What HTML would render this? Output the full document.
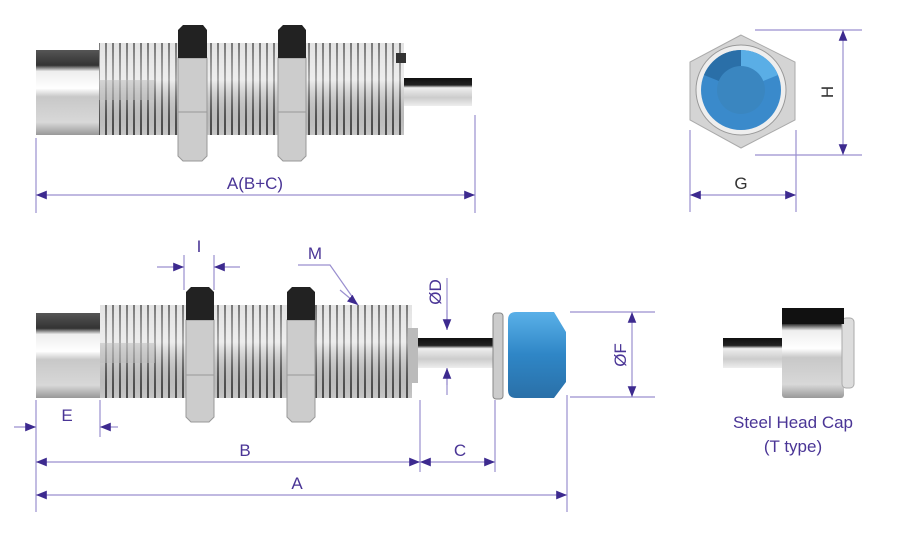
<!DOCTYPE html>
<html><head><style>body{margin:0;background:#fff}svg{display:block}</style></head><body>
<svg width="910" height="547" viewBox="0 0 910 547" xmlns="http://www.w3.org/2000/svg" font-family="Liberation Sans, sans-serif">
<defs>
<linearGradient id="cyl" x1="0" y1="0" x2="0" y2="1">
<stop offset="0" stop-color="#555"/><stop offset=".18" stop-color="#333"/><stop offset=".25" stop-color="#eee"/><stop offset=".45" stop-color="#fff"/><stop offset=".55" stop-color="#c8c8c8"/><stop offset=".85" stop-color="#d8d8d8"/><stop offset="1" stop-color="#999"/></linearGradient>
<linearGradient id="rod" x1="0" y1="0" x2="0" y2="1">
<stop offset="0" stop-color="#111"/><stop offset=".25" stop-color="#222"/><stop offset=".35" stop-color="#eee"/><stop offset=".7" stop-color="#ccc"/><stop offset="1" stop-color="#eee"/></linearGradient>
<pattern id="thr" width="7" height="10" patternUnits="userSpaceOnUse">
<rect width="7" height="10" fill="#dcdcdc"/><rect x="0" width="2" height="10" fill="#555"/></pattern>
<linearGradient id="shade" x1="0" y1="0" x2="0" y2="1">
<stop offset="0" stop-color="#fff" stop-opacity=".2"/><stop offset=".4" stop-color="#fff" stop-opacity=".5"/><stop offset="1" stop-color="#000" stop-opacity=".1"/></linearGradient>
<linearGradient id="blue" x1="0" y1="0" x2="0" y2="1">
<stop offset="0" stop-color="#5ab0e8"/><stop offset=".5" stop-color="#2f86c6"/><stop offset="1" stop-color="#2a70a8"/></linearGradient>
<marker id="ar" viewBox="0 0 10 10" refX="10" refY="5" markerWidth="9" markerHeight="9" orient="auto-start-reverse"><path d="M0,1 L10,5 L0,9 z" fill="#3d2a8f"/></marker>
</defs>

<g id="top">
<rect x="36" y="50" width="64" height="85" fill="url(#cyl)"/>
<rect x="99" y="43" width="305" height="92" fill="url(#thr)"/>
<rect x="99" y="43" width="305" height="92" fill="url(#shade)"/>
<rect x="99" y="80" width="55" height="20" fill="#bbb" opacity=".5"/>
<rect x="396" y="53" width="10" height="10" fill="#333"/>
<rect x="404" y="78" width="68" height="28" fill="url(#rod)"/>
<g fill="#ccc" stroke="#999"><path d="M178,58 h29 v98 l-5,5 h-19 l-5,-5z"/><path d="M278,58 h28 v98 l-5,5 h-18 l-5,-5z"/></g>
<g fill="#222"><path d="M183,25 h20 l4,5 v28 h-29 v-28z"/><path d="M283,25 h19 l4,5 v28 h-28 v-28z"/></g>
<path d="M178,112 h29 M278,112 h28" stroke="#999"/>
</g>

<g id="bot">
<rect x="36" y="313" width="64" height="85" fill="url(#cyl)"/>
<rect x="100" y="305" width="312" height="93" fill="url(#thr)"/>
<rect x="100" y="305" width="312" height="93" fill="url(#shade)"/>
<rect x="100" y="343" width="55" height="20" fill="#bbb" opacity=".5"/>
<rect x="408" y="328" width="10" height="55" fill="#bbb"/>
<rect x="418" y="338" width="78" height="30" fill="url(#rod)"/>
<rect x="493" y="313" width="10" height="86" rx="3" fill="#ccc" stroke="#888"/>
<path d="M508,320 q0,-8 8,-8 h38 l12,20 v50 l-12,16 h-38 q-8,0 -8,-8z" fill="url(#blue)"/>
<g fill="#ccc" stroke="#999"><path d="M186,320 h28 v97 l-5,5 h-18 l-5,-5z"/><path d="M287,320 h28 v97 l-5,5 h-18 l-5,-5z"/></g>
<g fill="#222"><path d="M191,287 h18 l5,5 v28 h-28 v-28z"/><path d="M292,287 h18 l5,5 v28 h-28 v-28z"/></g>
<path d="M186,375 h28 M287,375 h28" stroke="#999"/>
</g>

<g id="hex">
<path d="M741,35 L690,62 L690,120 L741,148 L795,120 L795,62z" fill="#d4d4d4" stroke="#aaa"/>
<circle cx="741" cy="90" r="45" fill="#eee" stroke="#999"/>
<circle cx="741" cy="90" r="40" fill="#3a8acb"/>
<path d="M741,50 A40,40 0 0 1 778,75 L741,90z" fill="#5aaee6"/>
<path d="M704,75 A40,40 0 0 1 741,50 L741,90z" fill="#2a6fa8"/>
<circle cx="741" cy="90" r="24" fill="#3a86c0"/>
</g>

<g id="cap">
<rect x="723" y="338" width="60" height="30" fill="url(#rod)"/>
<rect x="782" y="308" width="62" height="90" rx="3" fill="url(#cyl)"/>
<rect x="842" y="318" width="12" height="70" rx="4" fill="#ddd" stroke="#aaa"/>
<rect x="782" y="308" width="62" height="16" fill="#111"/>
</g>

<g stroke="#9a8fcf" stroke-width="1.2" fill="none">
<path d="M36,138 V213 M475,115 V213"/>
<path d="M36,400 V437 M100,400 V437 M36,400 V512 M420,400 V472 M495,400 V472 M567,395 V512"/>
<path d="M184,255 V290 M214,255 V290 M298,265 H330 L358,305"/>
<path d="M447,278 V330 M447,395 V368"/>
<path d="M570,312 H655 M570,397 H655"/>
<path d="M755,30 H862 M755,155 H862 M690,130 V212 M796,130 V212"/>
</g>
<g stroke="#9a8fcf" stroke-width="1.2" fill="none" marker-end="url(#ar)">
<path d="M475,195 H36" marker-start="url(#ar)"/>
<path d="M14,427 H36"/><path d="M118,427 H100"/>
<path d="M420,462 H36" marker-start="url(#ar)"/>
<path d="M495,462 H420" marker-start="url(#ar)"/>
<path d="M567,495 H36" marker-start="url(#ar)"/>
<path d="M157,267 H184"/><path d="M240,267 H214"/>
<path d="M340,290 L358,305"/>
<path d="M447,310 V330"/><path d="M447,385 V368"/>
<path d="M632,397 V312" marker-start="url(#ar)"/>
<path d="M843,155 V30" marker-start="url(#ar)"/>
<path d="M796,195 H690" marker-start="url(#ar)"/>
</g>
<g fill="#4a3596" font-size="17" text-anchor="middle">
<text x="255" y="189">A(B+C)</text>
<text x="67" y="421">E</text>
<text x="245" y="456">B</text>
<text x="460" y="456">C</text>
<text x="297" y="489">A</text>
<text x="199" y="252">I</text>
<text x="315" y="259">M</text>
<text transform="translate(441,292) rotate(-90)">ØD</text>
<text transform="translate(626,355) rotate(-90)">ØF</text>
<text transform="translate(833,92) rotate(-90)" fill="#333">H</text>
<text x="741" y="189" fill="#333">G</text>
<text x="793" y="428">Steel Head Cap</text>
<text x="793" y="452">(T type)</text>
</g>
</svg>
</body></html>
